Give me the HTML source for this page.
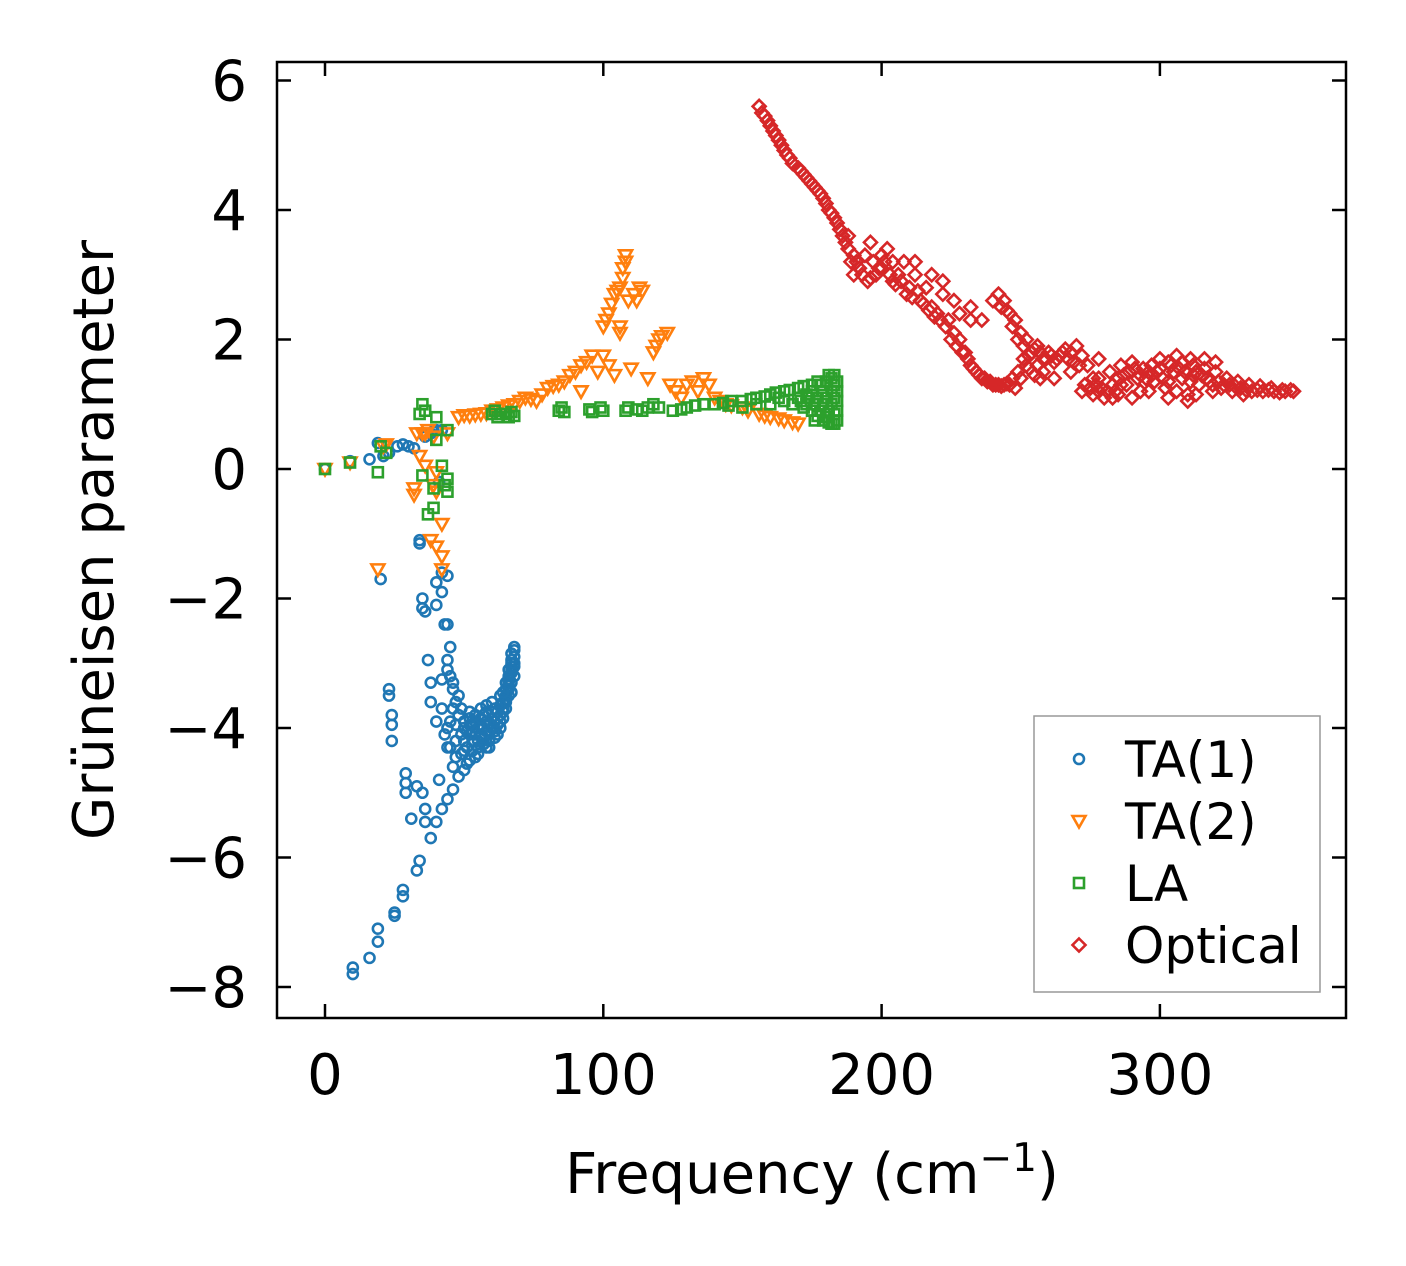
<!DOCTYPE html>
<html><head><meta charset="utf-8"><style>
html,body{margin:0;padding:0;background:#fff;}
svg{display:block;font-family:"DejaVu Sans","Liberation Sans",sans-serif;}
</style></head><body>
<svg id="chart" width="1406" height="1266" viewBox="0 0 1406 1266">
<g id="marks"></g>
<g id="axes"></g>
</svg>
<script>
const xTicks=[0,100,200,300];
const yTicks=[-8,-6,-4,-2,0,2,4,6];
const ta1=[[0,0],[9,0.12],[16,0.15],[19,0.4],[21,0.2],[23,0.25],[26,0.35],[28,0.38],[30,0.35],[32,0.32],[36,0.5],[38,0.55],[40,0.6],[42,0.6],[39,0.58],[41,-0.2],[20,-1.7],[34,-1.15],[34,-1.1],[35,-2.0],[35,-2.15],[23,-3.4],[23,-3.5],[24,-3.8],[24,-3.95],[24,-4.2],[29,-4.7],[29,-4.85],[29,-5.0],[31,-5.4],[33,-6.2],[34,-6.05],[28,-6.5],[28,-6.6],[25,-6.85],[25,-6.9],[19,-7.1],[19,-7.3],[16,-7.55],[10,-7.7],[10,-7.8],[33,-4.9],[35,-5.0],[36,-5.25],[36,-5.45],[38,-5.7],[40,-5.45],[42,-5.25],[44,-5.1],[41,-4.8],[46,-4.95],[48,-4.75],[50,-4.65],[52,-4.5],[37,-2.95],[38,-3.3],[38,-3.6],[40,-3.9],[42,-3.7],[44,-4.0],[42,-3.25],[44,-2.95],[45,-2.75],[43,-2.4],[44,-2.4],[40,-1.75],[42,-1.6],[44,-1.65],[42,-1.9],[40,-2.1],[36,-2.2],[46,-3.3],[48,-3.5],[46,-3.7],[45,-4.3],[47,-4.2],[49,-4.1],[51,-4.3],[53,-4.2],[55,-4.3],[57,-4.25],[59,-4.2],[61,-4.15],[63,-4.0],[50,-3.9],[52,-3.85],[54,-3.9],[56,-3.95],[58,-3.9],[60,-3.85],[62,-3.75],[64,-3.6],[65,-3.4],[66,-3.2],[67,-3.0],[68,-2.8],[68,-2.9],[67,-3.3],[66,-3.5],[65,-3.7],[64,-3.85],[50,-4.0],[52,-4.1],[54,-4.1],[56,-4.1],[58,-4.05],[60,-4.0],[62,-3.95],[64,-3.75],[65,-3.55],[66,-3.35],[67,-3.15],[68,-3.05],[53,-3.95],[57,-3.8],[61,-3.7],[63,-3.5],[65,-3.3],[66,-3.1],[67,-2.95],[48,-3.8],[50,-4.35],[54,-4.45],[58,-4.3],[52,-3.75],[56,-3.7],[60,-3.6],
[51,-4.05],[53,-4.05],[55,-4.0],[57,-4.0],[59,-3.95],[61,-3.9],[63,-3.8],[55,-4.2],[57,-4.15],[59,-4.1],[61,-4.05],[63,-3.9],[64,-3.7],[65,-3.5],[66,-3.3],[67,-3.1],[68,-3.2],[68,-3.0],[68,-2.75],[67,-2.85],[66,-3.4],[65,-3.6],[63,-3.65],[62,-3.85],[60,-3.75],[58,-3.75],[56,-3.85],[54,-3.8],[52,-3.95],[50,-4.2],[49,-4.4],[51,-4.55],[47,-4.45],[46,-4.6],[44,-4.3],[43,-4.1],[45,-3.9],[47,-3.95],[49,-3.7],[46,-3.4],[45,-3.2],[44,-3.1],[47,-3.6],[55,-4.4],[53,-4.35],[59,-4.3],[62,-4.1],[58,-3.65],[66,-3.25],[67,-3.45],[64,-3.45]];
const ta2=[[0,0],[9,0.1],[19,-1.55],[21,0.35],[22,0.38],[32,-0.3],[32,-0.4],[34,0.2],[36,0.05],[36,0.55],[39,-0.25],[40,-0.05],[40,-0.35],[42,-0.85],[38,-1.1],[40,-1.2],[42,-1.35],[42,-1.55],[33,0.55],[37,0.6],[44,0.55],[48,0.8],[52,0.82],[56,0.85],[60,0.9],[64,0.95],[68,1.0],[72,1.1],[76,1.05],[80,1.25],[84,1.3],[88,1.45],[92,1.6],[92,1.2],[96,1.75],[98,1.5],[100,2.2],[102,2.4],[104,2.7],[106,2.8],[107,2.95],[108,3.2],[100,1.75],[104,1.45],[110,1.55],[112,2.6],[114,2.75],[116,1.4],[118,1.8],[120,2.0],[123,2.1],[124,1.3],[128,1.1],[130,1.3],[132,1.35],[134,1.2],[136,1.4],[140,1.1],[144,1.0],[150,0.95],[156,0.85],[160,0.8],[165,0.75],[170,0.7],[106,2.1],[109,2.6],
[50,0.83],[54,0.84],[58,0.86],[62,0.92],[66,0.98],[70,1.05],[74,1.08],[78,1.15],[82,1.28],[86,1.35],[90,1.5],[94,1.65],[101,2.3],[103,2.55],[105,2.75],[107,3.1],[108,3.3],[106,2.2],[102,1.6],[111,2.7],[113,2.8],[119,1.9],[121,2.05],[126,1.2],[138,1.3],[142,1.05],[146,0.98],[152,0.9],[158,0.82],[163,0.78],[168,0.72],[35,0.55],[39,0.5]];
const la=[[0,0],[9,0.1],[19,-0.05],[20,0.35],[22,0.25],[34,0.85],[35,1.0],[35,-0.1],[36,0.9],[37,-0.7],[39,-0.3],[39,-0.6],[40,0.8],[40,0.45],[42,0.05],[43,-0.25],[44,-0.15],[44,-0.35],[44,0.6],[60,0.85],[62,0.8],[65,0.85],[68,0.82],[84,0.9],[86,0.88],[95,0.92],[100,0.9],[108,0.9],[112,0.92],[116,0.95],[120,0.95],[125,0.9],[130,0.95],[140,1.0],[146,1.05],[150,1.05],[155,1.1],[160,1.15],[165,1.2],[170,1.25],[175,1.2],[178,1.3],[180,1.35],[182,1.4],[182,0.7],[180,0.8],[178,0.9],[176,0.75],[172,0.95],[168,1.0],[174,1.1],[180,1.1],[182,1.0],[182,1.2],[176,1.0],[170,1.1],[160,1.0],[165,1.05],[150,0.95],[183,0.85],[183,1.3],
[61,0.9],[63,0.85],[66,0.8],[67,0.88],[85,0.95],[96,0.88],[99,0.95],[109,0.95],[114,0.9],[118,1.0],[128,0.92],[133,0.98],[136,1.0],[143,1.02],[153,1.08],[158,1.12],[162,1.18],[167,1.22],[172,1.28],[177,1.35],[181,1.45],[183,1.45],[184,1.35],[184,1.2],[184,1.05],[184,0.9],[184,0.75],[183,0.7],[181,0.72],[179,0.75],[177,0.82],[175,0.9],[173,1.0],[171,1.05],[179,1.0],[181,0.9],[183,1.1],[179,1.2],[177,1.1],[175,1.3],[173,1.15],[163,1.1],[155,1.0],[145,0.98]];
const opt=[[156,5.6],[158,5.45],[160,5.3],[162,5.15],[164,5.0],[166,4.85],[170,4.65],[173,4.5],[176,4.35],[178,4.25],[180,4.1],[182,3.95],[184,3.8],[186,3.6],[188,3.4],[189,3.2],[190,3.0],[192,3.1],[194,3.3],[196,2.95],[198,3.0],[200,3.3],[202,3.4],[204,3.2],[206,3.0],[208,3.2],[210,2.8],[212,3.0],[214,2.6],[216,2.8],[218,2.5],[220,2.4],[222,2.7],[224,2.3],[226,2.1],[228,2.0],[230,1.8],[232,1.6],[234,1.5],[236,1.4],[238,1.35],[240,1.3],[242,1.3],[244,1.3],[246,1.3],[248,1.25],[250,1.4],[252,1.6],[254,1.8],[256,1.9],[258,1.7],[260,1.8],[262,1.65],[264,1.75],[266,1.85],[268,1.8],[270,1.9],[246,2.4],[244,2.6],[242,2.7],[248,2.3],[250,2.1],[252,2.0],[256,1.6],[232,2.5],[228,2.4],[236,2.3],[240,2.6],[212,3.2],[218,3.0],[222,2.9],[272,1.2],[276,1.15],[280,1.1],[284,1.2],[288,1.3],[292,1.4],[296,1.5],[300,1.55],[304,1.6],[308,1.65],[312,1.6],[316,1.55],[320,1.5],[324,1.4],[328,1.35],[332,1.3],[336,1.28],[340,1.25],[344,1.22],[348,1.2],[278,1.4],[282,1.5],[286,1.6],[290,1.65],[294,1.55],[298,1.35],[302,1.25],[306,1.2],[310,1.15],[314,1.3],[318,1.35],[322,1.25],[326,1.2],[274,1.6],[278,1.7],[268,1.5],[286,1.3],[296,1.2],[308,1.4],[312,1.45],[300,1.7],[306,1.75],[316,1.7],[320,1.65],[278,1.2],[290,1.1],[310,1.05],[330,1.15],[262,1.4],[258,1.5],[226,2.6],[232,2.3],[204,2.9],[196,3.5],[200,3.1],
[157,5.5],[159,5.38],[161,5.22],[163,5.08],[165,4.92],[167,4.8],[168,4.72],[171,4.6],[172,4.55],[174,4.45],[175,4.4],[177,4.3],[179,4.18],[181,4.0],[183,3.88],[185,3.7],[187,3.5],[188,3.6],[190,3.3],[191,3.2],[193,3.0],[195,2.9],[197,3.2],[199,3.1],[201,3.2],[203,3.0],[205,2.85],[207,2.9],[209,2.7],[211,2.65],[213,2.75],[215,2.55],[217,2.45],[219,2.35],[221,2.3],[223,2.2],[225,2.0],[227,1.9],[229,1.8],[231,1.7],[233,1.55],[235,1.45],[237,1.4],[239,1.35],[241,1.3],[243,1.28],[245,1.32],[247,1.4],[249,1.5],[251,1.7],[253,1.75],[255,1.85],[257,1.8],[259,1.7],[261,1.75],[263,1.7],[265,1.8],[267,1.7],[269,1.65],[271,1.6],[273,1.3],[275,1.25],[277,1.3],[279,1.25],[281,1.2],[283,1.3],[285,1.4],[287,1.45],[289,1.5],[291,1.55],[293,1.45],[295,1.4],[297,1.45],[299,1.5],[301,1.4],[303,1.35],[305,1.5],[307,1.55],[309,1.5],[311,1.35],[313,1.5],[315,1.45],[317,1.4],[319,1.3],[321,1.35],[323,1.3],[325,1.3],[327,1.28],[329,1.25],[331,1.22],[333,1.2],[335,1.22],[337,1.2],[339,1.22],[341,1.2],[343,1.18],[345,1.2],[347,1.22],[243,2.5],[245,2.45],[247,2.2],[249,2.0],[251,1.9],[253,1.55],[255,1.45],[257,1.4],[285,1.15],[293,1.2],[303,1.1],[313,1.15],[319,1.2],[311,1.7],[303,1.65],[297,1.6],[283,1.1],[276,1.4],[272,1.75]];

const X=v=>325+v*2.783, Y=v=>469-v*64.75;
const NS='http://www.w3.org/2000/svg';
const marks=document.getElementById('marks'), axes=document.getElementById('axes');
function mk(tag,attrs,parent){const e=document.createElementNS(NS,tag);for(const k in attrs)e.setAttribute(k,attrs[k]);parent.appendChild(e);return e;}
function marker(kind,cx,cy,color,parent){
  if(kind==='circle')return mk('circle',{cx,cy,r:5,fill:'none',stroke:color,'stroke-width':2.6},parent);
  if(kind==='tri')return mk('polygon',{points:`${cx-6.5},${cy-5} ${cx+6.5},${cy-5} ${cx},${cy+6.5}`,fill:'none',stroke:color,'stroke-width':2.6},parent);
  if(kind==='sq')return mk('rect',{x:cx-5,y:cy-5,width:10,height:10,fill:'none',stroke:color,'stroke-width':2.6},parent);
  return mk('polygon',{points:`${cx},${cy-6.5} ${cx+6.5},${cy} ${cx},${cy+6.5} ${cx-6.5},${cy}`,fill:'none',stroke:color,'stroke-width':2.6},parent);
}
const series=[['ta1',ta1,'circle','#1f77b4'],['ta2',ta2,'tri','#ff7f0e'],['la',la,'sq','#2ca02c'],['optical',opt,'dia','#d62728']];
series.forEach(([n,d,k,c])=>{
  const g=mk('g',{},marks);
  
  
  d.forEach(p=>{const m=marker(k,X(p[0]),Y(p[1]),c,g);
    
    });
});
const fr=mk('rect',{x:277,y:62,width:1069,height:956,fill:'none',stroke:'#000','stroke-width':2.5},axes);


xTicks.forEach(t=>{const x=X(t);
  mk('line',{x1:x,x2:x,y1:1018,y2:1004,stroke:'#000','stroke-width':2.5},axes);
  mk('line',{x1:x,x2:x,y1:62,y2:76,stroke:'#000','stroke-width':2.5},axes);
  const tx=mk('text',{x:x,y:1094,'font-size':56,'text-anchor':'middle'},axes);tx.textContent=t;
  
  });
yTicks.forEach(t=>{const y=Y(t);
  mk('line',{x1:277,x2:291,y1:y,y2:y,stroke:'#000','stroke-width':2.5},axes);
  mk('line',{x1:1346,x2:1332,y1:y,y2:y,stroke:'#000','stroke-width':2.5},axes);
  const tx=mk('text',{x:247,y:y+20,'font-size':56,'text-anchor':'end'},axes);tx.textContent=(t<0?'\u2212'+(-t):t);
  
  });
const xl=mk('text',{x:812,y:1193,'font-size':56,'text-anchor':'middle'},axes);
xl.innerHTML='Frequency (cm<tspan dy="-22" font-size="39">\u22121</tspan><tspan dy="22">)</tspan>';


const yl=mk('text',{x:0,y:0,'font-size':56,'text-anchor':'middle',transform:'translate(113,540) rotate(-90)'},axes);
yl.textContent='Grüneisen parameter';


const lg=mk('g',{},axes);


mk('rect',{x:1034,y:716,width:286,height:276,fill:'#fff',stroke:'#999','stroke-width':1.5},lg);
const labels=['TA(1)','TA(2)','LA','Optical'];
series.forEach(([n,d,k,c],i)=>{const y=759+i*62;
  const e=mk('g',{},lg);
  
  
  marker(k,1079,y,c,e);
  const t=mk('text',{x:1125,y:y+18,'font-size':50},e);t.textContent=labels[i];});
</script>
</body></html>
